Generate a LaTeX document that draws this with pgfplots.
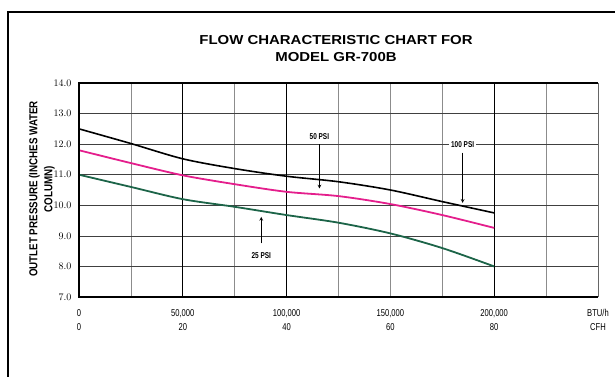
\documentclass[border=0pt]{standalone}
\usepackage{fontspec}
\setmainfont{Liberation Sans}
\newfontfamily\narrow[FakeStretch=0.76]{Liberation Sans}
\newfontfamily\ylab[FakeStretch=0.85]{Liberation Sans}
\newfontfamily\wide[FakeStretch=1.15]{Liberation Sans}
\usepackage{pgfplots}
\pgfplotsset{compat=1.18}
\definecolor{pinkc}{RGB}{228,30,140}
\definecolor{greenc}{RGB}{28,100,72}

\begin{document}
\begin{tikzpicture}[x=1pt,y=1pt]
\path[use as bounding box] (0,0) rectangle (615,377);
\draw[line width=2.5pt] (8,0) -- (8,365) -- (615,365);
\node[font=\wide\bfseries\fontsize{13}{17}\selectfont, align=center] at (336,328)
  {FLOW CHARACTERISTIC CHART FOR\\MODEL GR-700B};
\node[rotate=90, align=center, font=\ylab\bfseries\fontsize{11.5}{15}\selectfont]
  at (42,188) {OUTLET PRESSURE (INCHES WATER\\COLUMN)};
\begin{axis}[
    at={(79pt,80pt)}, anchor=south west,
    width=519pt, height=214pt, scale only axis,
    xmin=0, xmax=250000, ymin=7, ymax=14,
    axis line style={draw=none},
    major tick length=0pt, minor tick length=0pt,
    ytick={7,8,...,14},
    yticklabel={\pgfmathprintnumber[fixed,fixed zerofill,precision=1]{\tick}},
    yticklabel style={font=\narrow\fontsize{10}{10}\selectfont, xshift=-4pt},
    ymajorgrids,
    major grid style={black!75, line width=0.7pt},
    xtick={0,50000,100000,150000,200000,250000},
    xticklabels={{0\\0},{50,000\\20},{100,000\\40},{150,000\\60},{200,000\\80},{BTU/h\\CFH}},
    xticklabel style={align=center, font=\narrow\fontsize{10}{14}\selectfont, yshift=-9pt},
    minor xtick={25000,75000,125000,150000,175000,225000},
    xminorgrids,
    minor grid style={black!45, line width=0.7pt},
    extra x ticks={50000,100000,200000},
    extra x tick labels={},
    extra x tick style={xmajorgrids, major grid style={black, line width=1.1pt}},
    scaled x ticks=false,
    clip=false,
]
\addplot[black, line width=1.6pt, smooth] coordinates {
  (0,12.5) (25000,12.02) (50000,11.52) (75000,11.2) (100000,10.95)
  (125000,10.77) (150000,10.5) (175000,10.12) (200000,9.75)};
\addplot[pinkc, line width=1.8pt, smooth] coordinates {
  (0,11.8) (25000,11.38) (50000,10.98) (75000,10.69) (100000,10.44)
  (125000,10.3) (150000,10.04) (175000,9.68) (200000,9.26)};
\addplot[greenc, line width=1.8pt, smooth] coordinates {
  (0,11.0) (25000,10.6) (50000,10.2) (75000,9.95) (100000,9.68)
  (125000,9.43) (150000,9.08) (175000,8.6) (200000,8.0)};
\draw[line width=2pt] (rel axis cs:1,1) -- (rel axis cs:0,1) -- (rel axis cs:0,0) -- (rel axis cs:1,0);
\draw[black!60, line width=0.9pt] (rel axis cs:1,0) -- (rel axis cs:1,1);
% annotations
\node[font=\narrow\bfseries\fontsize{8.5}{9}\selectfont, fill=white, inner sep=1.5pt] at (axis cs:115800,12.25) {50 PSI};
\draw[-stealth, line width=0.7pt] (axis cs:115800,12.0) -- (axis cs:115800,10.55);
\node[font=\narrow\bfseries\fontsize{8.5}{9}\selectfont, fill=white, inner sep=2pt] at (axis cs:184800,12.0) {100 PSI};
\draw[-stealth, line width=0.7pt] (axis cs:184800,11.72) -- (axis cs:184800,10.08);
\node[font=\narrow\bfseries\fontsize{8.5}{9}\selectfont, fill=white, inner sep=1.5pt] at (axis cs:87800,8.34) {25 PSI};
\draw[-stealth, line width=0.7pt] (axis cs:87800,8.75) -- (axis cs:87800,9.62);
\end{axis}
\end{tikzpicture}
\end{document}
